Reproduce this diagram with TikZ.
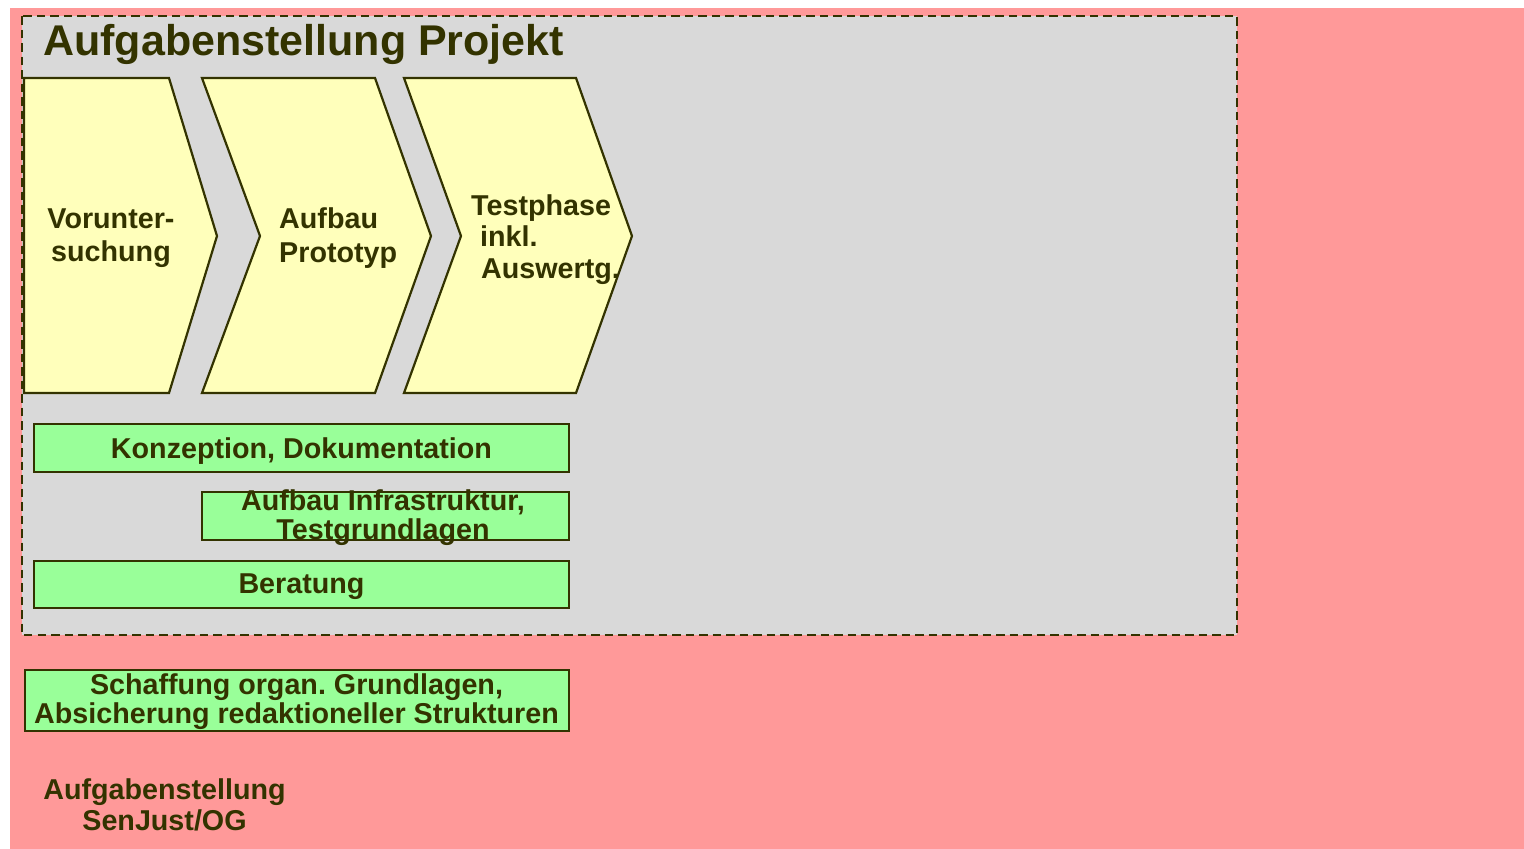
\documentclass[tikz,border=0pt]{standalone}
\usepackage{fontspec}
\setmainfont{Liberation Sans}
\definecolor{pinkbg}{HTML}{FF9999}
\definecolor{graybg}{HTML}{D9D9D9}
\definecolor{chevfill}{HTML}{FFFFBB}
\definecolor{barfill}{HTML}{99FF99}
\definecolor{ink}{HTML}{333300}
\newcommand{\tb}[2]{\begin{tabular}[t]{@{}#1@{}}#2\end{tabular}}
\frenchspacing
\begin{document}
\begin{tikzpicture}[x=1pt,y=-1pt,
  chev/.style={draw=ink, fill=chevfill, line width=2.2pt, line join=miter},
  bar/.style={draw=ink, fill=barfill, line width=2.2pt},
  lbl/.style={text=ink, inner sep=0pt, font=\bfseries\fontsize{28.7}{31}\selectfont},
]
\useasboundingbox (0,0) rectangle (1524,849);
\fill[pinkbg] (10,8) rectangle (1524,849);
\draw[draw=ink, fill=graybg, line width=2.2pt, dash pattern=on 8.5pt off 5pt] (22,16) rectangle (1237,635);
% chevrons
\draw[chev] (24,78) -- (169,78) -- (217,236) -- (169,393) -- (24,393) -- cycle;
\draw[chev] (202,78) -- (375,78) -- (431,236) -- (375,393) -- (202,393) -- (260,236) -- cycle;
\draw[chev] (404,78) -- (576,78) -- (632,236) -- (576,393) -- (404,393) -- (461,236) -- cycle;
% bars
\draw[bar] (34,424) rectangle (569,472);
\draw[bar] (202,492) rectangle (569,540);
\draw[bar] (34,561) rectangle (569,608);
\draw[bar] (25,670) rectangle (569,731);
% texts
\node[lbl, font=\bfseries\fontsize{43}{46}\selectfont, anchor=base west] (title) at (43,55) {Aufgabenstellung Projekt};
\node[lbl, font=\bfseries\fontsize{28.7}{33}\selectfont, anchor=base] (tvor) at (111,228) {\tb{c}{Vorunter-\\suchung}};
\node[lbl, font=\bfseries\fontsize{28.7}{34}\selectfont, anchor=base west] (tauf) at (279,228) {\tb{l}{Aufbau\\Prototyp}};
\node[lbl, font=\bfseries\fontsize{28.7}{31.5}\selectfont, anchor=base west] (ttest) at (471,215) {\tb{l}{Testphase\\\hspace*{9pt}inkl.\\\hspace*{10pt}Auswertg.}};
\node[lbl, anchor=base] (tkonz) at (301.5,458) {Konzeption, Dokumentation};
\node[lbl, font=\bfseries\fontsize{28.7}{29.5}\selectfont, anchor=base] (tinfra) at (383,510) {\tb{c}{Aufbau Infrastruktur,\\Testgrundlagen}};
\node[lbl, anchor=base] (tber) at (301.5,593) {Beratung};
\node[lbl, font=\bfseries\fontsize{28.7}{29.5}\selectfont, anchor=base] (tschaff) at (296.5,694) {\tb{c}{Schaffung organ. Grundlagen,\\Absicherung redaktioneller Strukturen}};
\node[lbl, anchor=base] (tsen) at (164.5,799) {\tb{c}{Aufgabenstellung\\SenJust/OG}};
\end{tikzpicture}
\end{document}
